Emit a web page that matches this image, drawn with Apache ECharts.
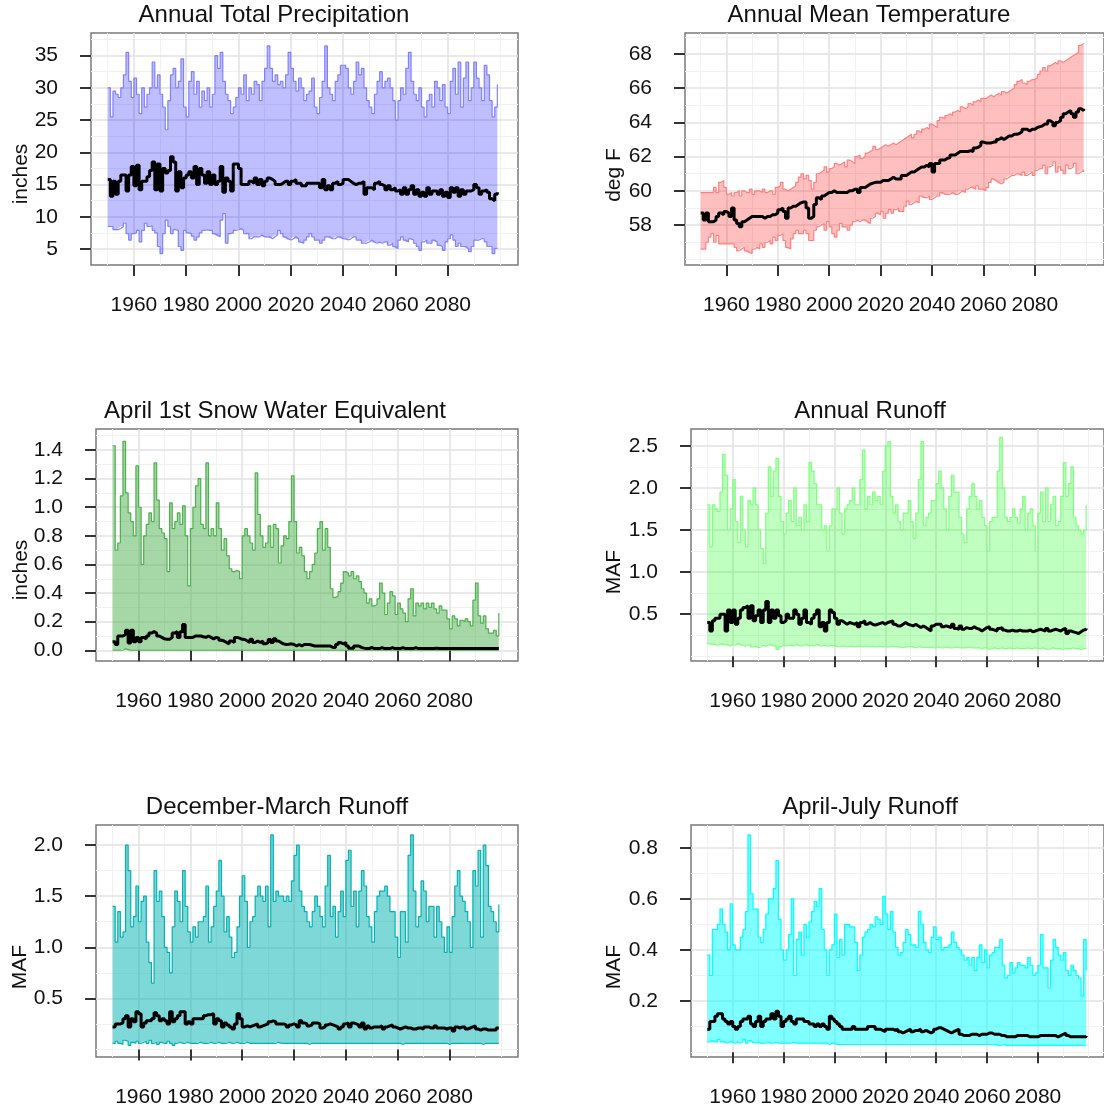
<!DOCTYPE html>
<html><head><meta charset="utf-8">
<script src="https://cdn.jsdelivr.net/npm/echarts@6/dist/echarts.min.js"></script>
<style>html,body{margin:0;padding:0;background:#fff}#c{width:1104px;height:1110px}</style>
</head><body><div id="c"></div>
<script>
const years = []; for (let y = 1950; y <= 2099; y++) years.push(y);
const xTickLabels = [1960, 1980, 2000, 2020, 2040, 2060, 2080];
const xMinorGrid = [1950, 1970, 1990, 2010, 2030, 2050, 2070, 2090, 2100];

const precipUpper = [
30,25.5,29.5,29,28.5,30,32,35.5,31,28.5,
31.5,29,26,30,27,29,30,34,30,32,
29,27,23.5,28,32,33,30,31,34.5,27,
25.5,31,32.5,29,31,27,29.5,28,30,27,
29,35,33,35.5,31,29,28,26,27,28.5,
30,29,32,28,30,29,31,30.5,28,31,
33,36.5,33,31,32,30.5,31,30,32,35.5,
33,31,29.5,31.5,30,28,29,29.5,31.5,27,
26,28.5,31,36.5,30,29,28,31,32,33.5,
33.5,33,30,29,31,34,32,33,30,28,
27,26,29,31,32.5,30,31,31.5,30,28,
25,28,30,29,33,35.5,31,29,28,30,
27,25.5,28,29,27,31,30,28,30.5,27,
26,31,33,29,34,27,31.5,34,28,30,
34,31.5,30,28,33.5,32,28,25.5,27,30.5];
const precipLower = [
8.5,8.5,8.0,8.0,8.2,8.5,9.0,7.4,6.4,7.4,
7.5,7.9,6.1,7.9,9.0,8.5,8.6,7.9,7.5,5.4,
4.3,7.4,9.5,8.5,7.4,8.0,7.9,5.4,4.8,7.9,
7.5,7.4,7.0,6.4,6.9,7.5,7.9,8.0,7.9,7.9,
7.4,7.2,6.9,9.5,10.5,5.9,7.4,7.5,7.9,8.0,
8.2,7.9,7.4,7.4,6.6,6.9,6.9,6.9,7.2,6.9,
6.9,6.9,6.6,6.9,7.2,7.9,7.4,6.9,6.6,6.4,
6.6,6.9,6.6,6.1,5.9,6.4,6.9,7.4,6.9,6.4,
6.4,5.9,6.4,6.9,6.9,6.6,6.6,6.9,6.9,6.6,
6.6,6.4,6.6,6.9,6.9,6.4,6.4,5.9,5.9,6.1,
6.4,6.1,5.9,6.1,5.9,6.1,6.1,5.6,5.9,5.4,
5.1,6.4,6.9,6.4,6.1,6.6,6.4,5.9,5.4,4.8,
6.1,6.4,5.9,5.9,6.4,6.1,5.6,5.4,4.8,6.1,
6.6,7.2,6.4,5.4,5.9,5.4,5.4,5.1,4.6,5.4,
6.4,6.4,6.6,6.6,6.1,5.4,5.4,4.3,5.1,5.0];
const precipMedian = [
15.8,13.2,15.5,13.5,15.5,16.5,16.5,14.0,16.5,17.8,
14.8,18.0,14.2,15.5,15.5,16.2,17.2,18.5,14.2,18.2,
14.0,17.5,16.8,17.2,19.3,18.5,14.0,17.0,14.5,16.0,
16.5,17.0,16.0,17.8,15.0,17.5,16.5,15.2,17.0,15.0,
16.5,15.0,15.5,17.8,13.8,16.0,15.5,14.0,18.2,18.2,
17.5,15.0,15.0,15.0,15.5,15.2,16.0,15.0,15.8,14.8,
15.5,16.0,15.8,15.5,15.0,15.0,15.2,15.5,15.5,15.0,
15.5,15.8,15.2,15.2,14.8,14.8,15.2,15.2,15.2,15.2,
15.2,14.5,15.8,14.2,14.8,14.2,15.2,15.5,15.0,15.2,
15.8,15.8,15.5,15.2,15.0,15.2,15.2,15.5,13.5,14.5,
14.5,14.2,15.2,15.5,15.0,14.8,14.2,14.8,14.2,14.5,
14.0,14.2,13.5,14.5,13.5,14.2,14.8,13.5,14.2,13.2,
13.8,13.2,14.5,13.5,14.0,14.0,13.5,14.2,13.2,13.8,
13.0,14.5,13.8,14.5,13.2,14.2,13.5,14.0,14.0,14.2,
15.0,14.5,13.5,14.0,14.2,13.8,12.8,12.5,13.5,13.8];

const tempUpper = [
59.9,59.9,59.9,59.9,59.9,60.2,59.9,60.5,60.6,60.2,
59.8,59.9,59.7,59.9,60.0,59.7,60.0,59.9,59.9,60.1,
59.8,60.0,60.0,59.9,60.1,59.9,60.0,60.0,59.8,60.2,
60.3,60.5,60.1,60.0,60.1,60.2,60.3,60.5,60.8,61.0,
60.7,60.9,60.6,60.1,60.5,61.0,61.1,61.2,61.4,61.1,
61.3,61.4,61.6,61.5,61.6,61.7,61.4,61.8,61.7,61.6,
62.0,62.1,61.9,62.0,62.2,62.3,62.4,62.6,62.4,62.5,
62.6,62.7,62.6,62.7,62.8,62.7,62.8,62.9,63.0,63.1,
63.2,63.3,63.1,63.3,63.5,63.4,63.6,63.7,63.6,63.9,
63.8,63.7,64.1,64.3,64.2,64.4,64.5,64.4,64.6,64.7,
64.6,64.9,64.8,64.9,65.1,65.0,65.2,65.3,65.2,65.4,
65.4,65.5,65.6,65.5,65.6,65.7,65.6,65.8,65.7,65.8,
65.9,66.0,66.2,66.4,66.5,66.3,66.2,66.4,66.5,66.5,
66.6,66.8,67.0,67.2,67.0,67.3,67.4,67.5,67.4,67.6,
67.5,67.6,67.7,67.8,67.9,68.0,68.1,68.5,68.6,68.6];
const tempLower = [
56.6,56.6,57.0,57.3,57.5,57.0,57.4,56.9,56.9,56.9,
56.9,56.9,56.9,56.7,56.5,56.6,56.7,56.5,56.4,56.35,
56.6,56.7,56.6,56.9,56.7,57.0,57.1,56.9,57.3,57.1,
57.4,57.5,57.1,56.7,56.6,57.2,57.5,57.7,57.5,57.5,
57.7,57.5,57.1,57.1,57.7,57.9,58.0,58.1,57.7,58.2,
57.9,57.5,57.3,57.7,58.1,57.9,57.9,57.7,58.0,58.2,
58.3,58.2,58.3,58.3,58.2,58.1,58.4,58.5,58.7,58.6,
58.8,58.4,58.7,58.9,58.7,58.9,59.0,58.8,58.8,59.1,
59.4,59.2,59.3,59.4,59.3,59.7,59.6,59.6,59.7,59.5,
59.6,59.7,59.7,59.9,59.8,59.8,59.8,59.9,59.8,59.8,
59.9,60.0,59.9,60.1,60.2,60.2,60.1,60.3,60.1,60.1,
60.0,60.2,60.5,60.7,60.6,60.5,60.4,60.5,60.7,60.8,
60.9,60.9,61.0,61.0,60.9,61.1,60.9,61.0,61.1,60.9,
61.2,61.3,61.3,61.5,61.0,61.4,61.5,61.7,61.1,61.4,
61.2,61.0,61.5,61.3,61.4,61.6,61.0,61.1,61.2,61.1];
const tempMedian = [
58.7,58.3,58.7,58.2,58.2,58.3,58.5,58.7,58.6,58.8,
58.7,58.5,59.0,58.3,58.1,57.9,58.2,58.3,58.4,58.5,
58.5,58.5,58.5,58.5,58.4,58.5,58.5,58.6,58.6,58.7,
58.9,59.0,58.8,58.4,59.0,59.1,59.1,59.2,59.3,59.35,
59.35,59.0,58.4,58.5,59.2,59.6,59.5,59.7,59.8,59.9,
59.9,60.0,59.9,59.9,59.9,59.9,59.9,60.0,60.0,60.1,
60.1,59.9,60.2,60.2,60.3,60.4,60.45,60.5,60.5,60.5,
60.6,60.6,60.6,60.7,60.8,60.7,60.7,60.7,60.9,60.9,
61.0,61.1,61.1,61.2,61.3,61.4,61.4,61.5,61.4,61.6,
61.1,61.6,61.6,61.8,61.8,61.9,61.95,62.1,62.1,62.2,
62.3,62.3,62.3,62.3,62.35,62.3,62.5,62.55,62.65,62.85,
62.8,62.8,62.8,62.85,62.85,63.0,63.1,63.0,63.1,63.2,
63.2,63.3,63.3,63.35,63.45,63.6,63.6,63.5,63.6,63.6,
63.7,63.75,63.8,63.9,63.9,64.1,64.0,63.8,64.0,64.1,
64.3,64.5,64.6,64.7,64.5,64.3,64.6,64.8,64.7,64.8];

const sweUpper = [
1.43,0.7,0.75,1.08,1.46,1.1,0.96,0.9,0.8,1.29,
1.0,0.6,0.8,0.88,0.96,0.9,1.31,1.05,0.85,0.82,
0.78,0.55,1.03,0.85,0.9,0.96,0.88,1.01,0.8,0.45,
0.85,1.0,1.15,1.2,0.88,0.85,1.31,0.8,0.85,0.8,
1.03,0.85,0.7,0.78,0.66,0.57,0.55,0.56,0.55,0.5,
0.8,0.85,0.8,0.75,0.7,1.24,0.95,0.8,0.72,0.75,
0.87,0.72,0.88,0.85,0.61,0.73,0.8,0.78,0.9,1.22,
0.9,0.68,0.72,0.66,0.55,0.5,0.55,0.6,0.68,0.85,
0.9,0.7,0.85,0.72,0.43,0.37,0.38,0.41,0.47,0.55,
0.54,0.52,0.55,0.5,0.52,0.48,0.43,0.4,0.33,0.36,
0.31,0.32,0.36,0.47,0.4,0.25,0.33,0.41,0.38,0.25,
0.33,0.29,0.26,0.2,0.36,0.43,0.24,0.33,0.31,0.33,
0.29,0.33,0.3,0.33,0.29,0.26,0.31,0.28,0.28,0.22,
0.15,0.24,0.22,0.17,0.21,0.2,0.22,0.2,0.17,0.35,
0.47,0.24,0.19,0.24,0.15,0.12,0.12,0.14,0.1,0.26];
const sweLower = [
0,0,0,0,0.01,0.005,0,0,0,0,
0,0,0,0,0,0,0,0,0,0,
0,0,0,0,0,0,0,0,0,0,
0,0,0,0,0,0,0,0,0,0,
0,0,0,0,0,0,0,0,0,0,
0,0,0,0,0,0,0,0,0,0,
0,0,0,0,0,0,0,0,0,0,
0,0,0,0,0,0,0,0,0,0,
0,0,0,0,0,0,0,0,0,0,
0,0,0,0,0,0,0,0,0,0,
0,0,0,0,0,0,0,0,0,0,
0,0,0,0,0,0,0,0,0,0,
0,0,0,0,0,0,0,0,0,0,
0,0,0,0,0,0,0,0,0,0,
0,0,0,0,0,0,0,0,0,0];
const sweMedian = [
0.06,0.04,0.10,0.10,0.11,0.14,0.05,0.14,0.06,0.09,
0.06,0.09,0.08,0.10,0.12,0.13,0.12,0.10,0.09,0.08,
0.077,0.077,0.09,0.12,0.13,0.09,0.13,0.18,0.09,0.09,
0.09,0.10,0.10,0.10,0.095,0.09,0.10,0.09,0.08,0.09,
0.085,0.07,0.065,0.054,0.045,0.065,0.054,0.09,0.085,0.077,
0.075,0.065,0.054,0.077,0.054,0.065,0.054,0.065,0.045,0.054,
0.075,0.054,0.08,0.065,0.054,0.045,0.04,0.042,0.045,0.04,
0.03,0.04,0.03,0.04,0.04,0.04,0.035,0.03,0.03,0.03,
0.03,0.03,0.03,0.03,0.02,0.02,0.04,0.054,0.045,0.054,
0.03,0.015,0.015,0.03,0.03,0.02,0.015,0.012,0.012,0.02,
0.012,0.012,0.012,0.018,0.012,0.012,0.012,0.018,0.012,0.012,
0.012,0.018,0.012,0.012,0.012,0.012,0.018,0.012,0.012,0.012,
0.012,0.012,0.012,0.012,0.015,0.012,0.012,0.012,0.012,0.012,
0.012,0.012,0.012,0.012,0.012,0.012,0.012,0.012,0.012,0.012,
0.012,0.012,0.012,0.012,0.012,0.012,0.012,0.012,0.012,0.012];

const runoffUpper = [
1.8,1.3,1.8,1.75,1.72,1.95,2.4,2.15,1.5,1.75,
2.1,1.6,1.35,1.9,1.5,1.3,1.85,1.8,2.0,1.8,
1.5,1.28,1.1,1.7,2.25,1.9,2.2,2.35,1.9,1.6,
1.45,1.7,1.85,1.6,2.0,1.55,1.65,1.5,1.8,1.6,
2.3,2.2,2.05,1.8,1.8,1.5,1.55,1.25,1.55,1.75,
1.75,2.0,1.7,1.45,1.75,1.8,1.85,2.0,1.8,1.8,
2.1,2.45,1.75,1.9,1.8,1.95,1.85,1.9,1.8,2.2,
2.5,2.55,1.9,1.7,1.8,1.6,1.5,1.7,1.7,1.85,
1.6,1.4,1.7,2.1,2.55,1.55,1.65,1.7,1.85,1.85,
2.05,2.2,2.0,1.75,1.5,1.9,2.15,1.95,1.95,1.65,
1.45,1.35,1.75,1.9,2.05,1.9,1.75,1.85,1.65,1.55,
1.25,1.6,1.65,1.65,2.2,2.6,2.0,1.65,1.6,1.65,
1.75,1.65,1.58,1.75,1.9,1.5,1.7,1.75,1.55,1.25,
1.7,1.95,1.6,2.0,1.6,1.8,1.9,1.55,1.6,1.9,
2.3,1.9,2.05,2.25,1.65,1.55,1.5,1.45,1.5,1.8];
const runoffLower = [
0.15,0.14,0.14,0.13,0.14,0.15,0.13,0.14,0.12,0.14,
0.13,0.15,0.14,0.13,0.12,0.13,0.14,0.11,0.12,0.10,
0.11,0.13,0.12,0.13,0.14,0.12,0.13,0.08,0.11,0.13,
0.12,0.13,0.13,0.12,0.14,0.13,0.12,0.13,0.14,0.12,
0.13,0.12,0.14,0.13,0.12,0.13,0.12,0.12,0.13,0.12,
0.12,0.11,0.12,0.12,0.11,0.12,0.12,0.11,0.12,0.12,
0.11,0.12,0.12,0.11,0.12,0.11,0.11,0.12,0.11,0.11,
0.11,0.11,0.12,0.11,0.11,0.11,0.10,0.11,0.11,0.11,
0.11,0.10,0.11,0.11,0.10,0.11,0.10,0.11,0.10,0.10,
0.11,0.10,0.10,0.11,0.10,0.10,0.10,0.11,0.10,0.10,
0.10,0.10,0.11,0.10,0.10,0.10,0.10,0.09,0.10,0.10,
0.08,0.09,0.10,0.09,0.09,0.10,0.09,0.09,0.10,0.09,
0.09,0.10,0.09,0.09,0.09,0.10,0.09,0.09,0.10,0.09,
0.09,0.10,0.09,0.08,0.09,0.10,0.09,0.09,0.09,0.08,
0.09,0.09,0.09,0.10,0.09,0.09,0.08,0.09,0.09,0.09];
const runoffMedian = [
0.40,0.30,0.42,0.45,0.45,0.50,0.50,0.30,0.55,0.40,
0.55,0.38,0.45,0.55,0.58,0.60,0.45,0.60,0.42,0.48,
0.55,0.40,0.55,0.65,0.40,0.55,0.45,0.55,0.48,0.40,
0.42,0.50,0.45,0.45,0.55,0.50,0.38,0.45,0.55,0.40,
0.38,0.45,0.50,0.55,0.35,0.40,0.30,0.40,0.55,0.52,
0.45,0.38,0.42,0.40,0.38,0.40,0.39,0.38,0.40,0.35,
0.40,0.42,0.38,0.40,0.38,0.37,0.38,0.39,0.40,0.38,
0.40,0.41,0.42,0.38,0.36,0.36,0.38,0.40,0.38,0.37,
0.36,0.38,0.36,0.34,0.36,0.34,0.32,0.30,0.36,0.38,
0.38,0.38,0.35,0.36,0.35,0.34,0.38,0.33,0.32,0.36,
0.32,0.34,0.33,0.33,0.35,0.33,0.32,0.30,0.32,0.34,
0.35,0.32,0.31,0.30,0.33,0.34,0.31,0.30,0.30,0.31,
0.30,0.30,0.31,0.30,0.30,0.30,0.31,0.29,0.30,0.31,
0.32,0.31,0.30,0.33,0.30,0.31,0.32,0.31,0.30,0.32,
0.33,0.27,0.30,0.29,0.28,0.27,0.29,0.31,0.32,0.33];

const djfmUpper = [
1.4,1.05,1.35,1.1,1.15,2.0,1.75,1.2,1.3,1.6,
1.25,1.45,1.5,1.05,0.85,0.65,1.75,1.45,1.55,1.3,
1.0,0.95,0.75,1.2,1.55,1.45,1.25,1.75,1.4,1.15,
1.05,1.2,1.1,1.25,1.25,1.3,1.6,1.05,1.2,1.4,
1.55,1.85,1.5,1.15,1.3,1.1,0.9,0.95,1.2,1.5,
1.7,1.45,1.0,1.25,1.3,1.5,1.6,1.5,1.45,1.6,
1.2,2.1,1.45,1.55,1.5,1.5,1.45,1.5,1.45,1.65,
1.9,2.0,1.55,1.4,1.35,1.25,1.2,1.35,1.5,1.4,
1.3,1.2,1.6,1.9,1.3,1.4,1.1,1.35,1.55,1.3,
1.85,1.95,1.4,1.55,1.2,1.55,1.75,1.6,1.3,1.2,
1.05,1.35,1.5,1.55,1.55,1.6,1.5,1.35,1.35,1.1,
0.9,1.35,1.35,1.05,1.9,2.1,1.55,1.2,1.3,1.65,
1.55,1.25,1.4,1.4,1.1,1.4,1.25,1.1,0.95,1.2,
0.95,1.3,1.6,1.75,1.5,1.45,1.35,1.25,1.0,1.75,
1.6,1.95,1.1,2.0,1.8,1.4,1.35,1.25,1.15,1.42];
const djfmLower = [
0.06,0.08,0.06,0.05,0.09,0.08,0.04,0.07,0.06,0.08,
0.06,0.07,0.08,0.06,0.09,0.06,0.07,0.05,0.07,0.06,
0.06,0.08,0.06,0.04,0.06,0.07,0.06,0.06,0.07,0.06,
0.06,0.06,0.06,0.07,0.06,0.06,0.06,0.07,0.06,0.06,
0.07,0.06,0.06,0.06,0.07,0.06,0.06,0.07,0.06,0.06,
0.06,0.07,0.06,0.06,0.06,0.06,0.06,0.06,0.06,0.06,
0.06,0.06,0.06,0.07,0.06,0.06,0.06,0.06,0.06,0.06,
0.06,0.06,0.06,0.06,0.06,0.05,0.06,0.06,0.06,0.06,
0.06,0.06,0.06,0.06,0.06,0.06,0.06,0.06,0.06,0.06,
0.06,0.06,0.06,0.06,0.06,0.06,0.06,0.06,0.06,0.06,
0.06,0.06,0.06,0.06,0.06,0.06,0.06,0.06,0.06,0.06,
0.06,0.05,0.06,0.06,0.06,0.06,0.06,0.06,0.06,0.06,
0.06,0.06,0.06,0.06,0.06,0.06,0.06,0.06,0.06,0.05,
0.06,0.06,0.06,0.06,0.06,0.06,0.06,0.06,0.06,0.06,
0.06,0.06,0.05,0.06,0.06,0.06,0.06,0.06,0.06,0.06];
const djfmMedian = [
0.22,0.25,0.25,0.26,0.30,0.33,0.22,0.30,0.27,0.37,
0.35,0.22,0.26,0.28,0.28,0.30,0.36,0.33,0.28,0.30,
0.28,0.25,0.37,0.27,0.30,0.33,0.37,0.37,0.25,0.27,
0.25,0.30,0.30,0.30,0.30,0.33,0.34,0.34,0.35,0.25,
0.30,0.28,0.22,0.26,0.24,0.22,0.20,0.25,0.35,0.30,
0.22,0.23,0.22,0.23,0.24,0.25,0.22,0.23,0.24,0.25,
0.27,0.28,0.27,0.25,0.25,0.25,0.24,0.22,0.24,0.25,
0.24,0.22,0.28,0.26,0.25,0.23,0.24,0.26,0.26,0.25,
0.21,0.22,0.24,0.25,0.24,0.23,0.22,0.20,0.22,0.25,
0.26,0.22,0.26,0.25,0.24,0.22,0.26,0.20,0.23,0.21,
0.22,0.22,0.22,0.23,0.20,0.22,0.23,0.24,0.22,0.21,
0.20,0.21,0.22,0.21,0.21,0.20,0.20,0.21,0.21,0.20,
0.22,0.22,0.21,0.21,0.23,0.21,0.21,0.21,0.20,0.21,
0.21,0.18,0.22,0.21,0.22,0.22,0.20,0.21,0.22,0.23,
0.20,0.19,0.20,0.20,0.19,0.19,0.19,0.19,0.21,0.21];

const amjjUpper = [
0.38,0.3,0.48,0.48,0.5,0.56,0.5,0.47,0.4,0.58,
0.42,0.4,0.4,0.45,0.48,0.55,0.85,0.62,0.56,0.56,
0.45,0.43,0.48,0.54,0.6,0.6,0.64,0.75,0.52,0.4,
0.36,0.4,0.46,0.6,0.3,0.44,0.47,0.38,0.5,0.45,
0.51,0.55,0.59,0.57,0.64,0.48,0.4,0.3,0.4,0.42,
0.54,0.37,0.44,0.38,0.5,0.5,0.49,0.49,0.43,0.32,
0.38,0.45,0.47,0.48,0.5,0.49,0.53,0.52,0.5,0.61,
0.54,0.48,0.55,0.47,0.41,0.38,0.39,0.43,0.48,0.46,
0.42,0.42,0.41,0.55,0.5,0.43,0.4,0.39,0.45,0.49,
0.44,0.45,0.4,0.41,0.41,0.42,0.47,0.43,0.41,0.4,
0.38,0.36,0.37,0.34,0.37,0.32,0.37,0.42,0.35,0.4,
0.33,0.38,0.39,0.41,0.41,0.44,0.34,0.29,0.3,0.35,
0.31,0.33,0.35,0.34,0.34,0.33,0.37,0.34,0.3,0.31,
0.34,0.46,0.33,0.33,0.25,0.36,0.44,0.41,0.38,0.36,
0.39,0.32,0.3,0.34,0.32,0.3,0.29,0.22,0.44,0.32];
const amjjLower = [
0.04,0.045,0.04,0.04,0.05,0.04,0.04,0.035,0.04,0.04,
0.035,0.04,0.035,0.04,0.05,0.035,0.045,0.04,0.035,0.04,
0.035,0.035,0.035,0.04,0.035,0.035,0.04,0.035,0.035,0.035,
0.035,0.035,0.035,0.04,0.035,0.035,0.035,0.035,0.035,0.035,
0.035,0.035,0.035,0.035,0.035,0.035,0.035,0.03,0.035,0.035,
0.03,0.03,0.03,0.03,0.03,0.03,0.03,0.03,0.03,0.03,
0.03,0.03,0.03,0.03,0.03,0.03,0.03,0.03,0.03,0.03,
0.03,0.03,0.03,0.03,0.03,0.03,0.03,0.03,0.03,0.03,
0.03,0.03,0.03,0.03,0.03,0.03,0.03,0.03,0.03,0.03,
0.03,0.03,0.03,0.03,0.03,0.03,0.03,0.03,0.03,0.03,
0.03,0.03,0.03,0.03,0.03,0.03,0.03,0.03,0.03,0.03,
0.03,0.028,0.03,0.028,0.025,0.028,0.03,0.025,0.028,0.025,
0.028,0.025,0.028,0.025,0.028,0.025,0.028,0.025,0.028,0.025,
0.028,0.025,0.028,0.025,0.028,0.025,0.028,0.025,0.028,0.025,
0.028,0.025,0.028,0.025,0.028,0.025,0.028,0.025,0.025,0.025];
const amjjMedian = [
0.09,0.12,0.12,0.14,0.15,0.15,0.13,0.12,0.11,0.12,
0.10,0.09,0.10,0.12,0.13,0.13,0.14,0.11,0.10,0.12,
0.14,0.10,0.12,0.13,0.13,0.15,0.13,0.16,0.14,0.10,
0.12,0.13,0.14,0.12,0.11,0.13,0.13,0.13,0.12,0.12,
0.11,0.11,0.10,0.11,0.10,0.11,0.10,0.09,0.14,0.13,
0.12,0.11,0.10,0.09,0.09,0.09,0.09,0.10,0.09,0.09,
0.09,0.09,0.09,0.10,0.10,0.10,0.09,0.09,0.085,0.08,
0.09,0.09,0.09,0.085,0.09,0.08,0.075,0.08,0.085,0.09,
0.08,0.085,0.085,0.09,0.08,0.085,0.08,0.075,0.08,0.09,
0.095,0.095,0.09,0.085,0.08,0.075,0.08,0.085,0.09,0.07,
0.065,0.065,0.065,0.07,0.07,0.07,0.065,0.07,0.07,0.07,
0.075,0.075,0.07,0.07,0.07,0.065,0.065,0.06,0.06,0.06,
0.06,0.065,0.065,0.065,0.065,0.065,0.06,0.06,0.06,0.06,
0.065,0.065,0.065,0.065,0.065,0.065,0.065,0.06,0.065,0.07,
0.075,0.065,0.06,0.06,0.06,0.06,0.06,0.06,0.06,0.063];

const FONT = "'Liberation Sans', Arial, Helvetica, sans-serif";
const panels = [
  {title:'Annual Total Precipitation', yname:'inches', upper:precipUpper, lower:precipLower, median:precipMedian,
   line:'#8080ff', fill:'rgba(0,0,255,0.25)', ymin:2.53, ymax:38.5, yTicks:[5,10,15,20,25,30,35],
   yMinor:[7.5,12.5,17.5,22.5,27.5,32.5,37.5], dec:0, xmin:1943.6, xmax:2106.9,
   grid:{left:91, top:33, width:427, height:232}, tx:274, ty:15.5, nx:21, ny:174},
  {title:'Annual Mean Temperature', yname:'deg F', upper:tempUpper, lower:tempLower, median:tempMedian,
   line:'#ff8080', fill:'rgba(255,0,0,0.25)', ymin:55.67, ymax:69.22, yTicks:[58,60,62,64,66,68],
   yMinor:[56,57,59,61,63,65,67,69], dec:0, xmin:1943.9, xmax:2106.9,
   grid:{left:685, top:33, width:427, height:232}, tx:869, ty:15.5, nx:614, ny:175},
  {title:'April 1st Snow Water Equivalent', yname:'inches', upper:sweUpper, lower:sweLower, median:sweMedian,
   line:'#4cb04c', fill:'rgba(77,176,77,0.5)', ymin:-0.075, ymax:1.547, yTicks:[0,0.2,0.4,0.6,0.8,1.0,1.2,1.4],
   yMinor:[0.1,0.3,0.5,0.7,0.9,1.1,1.3,1.5], dec:1, xmin:1943.6, xmax:2106.4,
   grid:{left:96, top:429, width:422, height:232}, tx:275, ty:411.5, nx:21, ny:570},
  {title:'Annual Runoff', yname:'MAF', upper:runoffUpper, lower:runoffLower, median:runoffMedian,
   line:'#80ff80', fill:'rgba(0,255,0,0.25)', ymin:-0.057, ymax:2.70, yTicks:[0.5,1.0,1.5,2.0,2.5],
   yMinor:[0,0.25,0.75,1.25,1.75,2.25], dec:1, xmin:1943.6, xmax:2106.0,
   grid:{left:691, top:429, width:421, height:232}, tx:870, ty:411.5, nx:614, ny:572},
  {title:'December-March Runoff', yname:'MAF', upper:djfmUpper, lower:djfmLower, median:djfmMedian,
   line:'#00b2b2', fill:'rgba(0,178,178,0.5)', ymin:-0.074, ymax:2.197, yTicks:[0.5,1.0,1.5,2.0],
   yMinor:[0,0.25,0.75,1.25,1.75], dec:1, xmin:1943.6, xmax:2106.4,
   grid:{left:96, top:825, width:422, height:232}, tx:277, ty:807.5, nx:20, ny:967},
  {title:'April-July Runoff', yname:'MAF', upper:amjjUpper, lower:amjjLower, median:amjjMedian,
   line:'#00ffff', fill:'rgba(0,255,255,0.5)', ymin:-0.019, ymax:0.889, yTicks:[0.2,0.4,0.6,0.8],
   yMinor:[0,0.1,0.3,0.5,0.7], dec:1, xmin:1943.6, xmax:2106.0,
   grid:{left:691, top:825, width:421, height:232}, tx:870, ty:807.5, nx:614, ny:967}
];

const grids = [], xAxes = [], yAxes = [], series = [], graphics = [];
const MAJOR = '#e2e2e2', MINOR = '#f1f1f1', TICK = '#333', TXT = '#111';
panels.forEach((p, i) => {
  grids.push(Object.assign({show:true, borderColor:'#7a7a7a', borderWidth:1.5, backgroundColor:'transparent', containLabel:false}, p.grid));
  xAxes.push({gridIndex:i, type:'value', min:p.xmin, max:p.xmax,
    axisLine:{show:false},
    axisTick:{show:true, length:11, customValues:xTickLabels, lineStyle:{color:TICK, width:2}},
    axisLabel:{customValues:xTickLabels, margin:30, fontSize:21, color:TXT, fontFamily:FONT,
      hideOverlap:false, showMinLabel:true, showMaxLabel:true, formatter: v => String(Math.round(v))},
    splitLine:{show:true, lineStyle:{color:MAJOR, width:1.5}}, z:1});
  xAxes.push({gridIndex:i, type:'value', min:p.xmin, max:p.xmax, position:'bottom',
    axisLine:{show:false}, axisTick:{show:false, customValues:xMinorGrid},
    axisLabel:{show:false, customValues:xMinorGrid},
    splitLine:{show:true, lineStyle:{color:MINOR, width:1}}, z:0});
  yAxes.push({gridIndex:i, type:'value', min:p.ymin, max:p.ymax,
    axisLine:{show:false},
    axisTick:{show:true, length:11, customValues:p.yTicks, lineStyle:{color:TICK, width:2}},
    axisLabel:{customValues:p.yTicks, margin:33, fontSize:21, color:TXT, fontFamily:FONT,
      formatter: v => Number(v).toFixed(p.dec)},
    splitLine:{show:true, lineStyle:{color:MAJOR, width:1.5}}, z:1});
  yAxes.push({gridIndex:i, type:'value', min:p.ymin, max:p.ymax, position:'left',
    axisLine:{show:false}, axisTick:{show:false, customValues:p.yMinor},
    axisLabel:{show:false, customValues:p.yMinor},
    splitLine:{show:true, lineStyle:{color:MINOR, width:1}}, z:0});
  const xi = 2*i, yi = 2*i;
  // value first so that the stack applies to the y dimension
  series.push({type:'line', xAxisIndex:xi, yAxisIndex:yi, stack:'band'+i, step:'end', symbol:'none', silent:true,
    encode:{x:1, y:0}, data: years.map((y,k) => [p.lower[k], y]), lineStyle:{color:p.line, width:1.2}, z:2});
  series.push({type:'line', xAxisIndex:xi, yAxisIndex:yi, stack:'band'+i, step:'end', symbol:'none', silent:true,
    encode:{x:1, y:0}, data: years.map((y,k) => [+(p.upper[k]-p.lower[k]).toFixed(4), y]),
    lineStyle:{color:p.line, width:1.2}, areaStyle:{color:p.fill, opacity:1}, z:2});
  series.push({type:'line', xAxisIndex:xi, yAxisIndex:yi, step:'end', symbol:'none', silent:true,
    data: years.map((y,k) => [y, p.median[k]]), lineStyle:{color:'#000', width:3}, z:3});
  graphics.push({type:'text', x:p.tx, y:p.ty, silent:true,
    style:{text:p.title, textAlign:'center', textVerticalAlign:'middle', fill:TXT, font:'24px ' + FONT}});
  graphics.push({type:'text', x:p.nx, y:p.ny, rotation:Math.PI/2, silent:true,
    style:{text:p.yname, textAlign:'center', textVerticalAlign:'middle', fill:TXT, font:'21px ' + FONT}});
});

const chart = echarts.init(document.getElementById('c'), null, {renderer:'canvas'});
chart.setOption({animation:false, backgroundColor:'#fff', grid:grids, xAxis:xAxes, yAxis:yAxes, series:series, graphic:graphics});
</script></body></html>
